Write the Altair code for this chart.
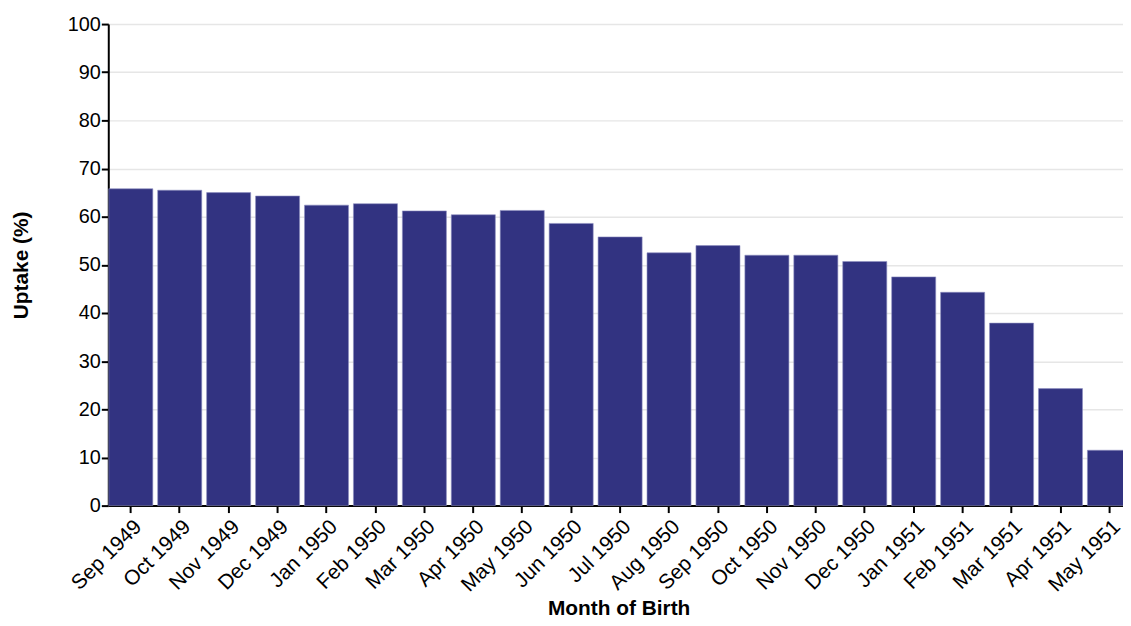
import altair as alt
import pandas as pd

months = ["Sep 1949", "Oct 1949", "Nov 1949", "Dec 1949", "Jan 1950", "Feb 1950",
          "Mar 1950", "Apr 1950", "May 1950", "Jun 1950", "Jul 1950", "Aug 1950",
          "Sep 1950", "Oct 1950", "Nov 1950", "Dec 1950", "Jan 1951", "Feb 1951",
          "Mar 1951", "Apr 1951", "May 1951"]
uptake = [65.8, 65.5, 65.0, 64.3, 62.4, 62.7, 61.2, 60.4, 61.3, 58.6, 55.8, 52.5,
          54.0, 52.0, 52.0, 50.7, 47.5, 44.3, 37.9, 24.3, 11.5]
y_ticks = [0, 10, 20, 30, 40, 50, 60, 70, 80, 90, 100]

df = pd.DataFrame({"month": months, "uptake": uptake})

FONT = "Liberation Sans"

chart = alt.Chart(df).mark_bar(color="#323381", stroke="#8e8fc0", strokeWidth=0.6).encode(
    x=alt.X("month:N", sort=months,
            scale=alt.Scale(paddingInner=0.1, paddingOuter=0.01),
            axis=alt.Axis(title="Month of Birth", labelAngle=-45, labelAlign="right",
                          labelBaseline="top", labelPadding=3, labelOffset=0,
                          tickSize=7, tickWidth=2, tickColor="#000", domainColor="#000",
                          domainWidth=2, labelFontSize=21, labelFont=FONT,
                          labelColor="#000", titleFont=FONT, titleFontSize=21,
                          titleFontWeight="bold", titleColor="#000",
                          titleBaseline="alphabetic", titleY=110, titleX=514,
                          grid=False)),
    y=alt.Y("uptake:Q", scale=alt.Scale(domain=[0, 100], nice=False),
            axis=alt.Axis(title="Uptake (%)", values=y_ticks, tickSize=7, tickWidth=2,
                          tickColor="#000", domainColor="#000", domainWidth=2,
                          labelFontSize=20, labelFont=FONT, labelColor="#000",
                          labelPadding=1, titleFont=FONT, titleFontSize=21,
                          titleFontWeight="bold", titleColor="#000", titleX=-87,
                          titleBaseline="middle", gridColor="#e6e6e6", gridWidth=1.5)),
).properties(
    width=1031,
    height=485,
    padding={"left": 101, "top": 14, "right": -9, "bottom": 111},
    autosize=alt.AutoSizeParams(type="none"),
).configure_view(stroke=None)

chart.save("out.html", embed_options={"renderer": "svg", "actions": False})
